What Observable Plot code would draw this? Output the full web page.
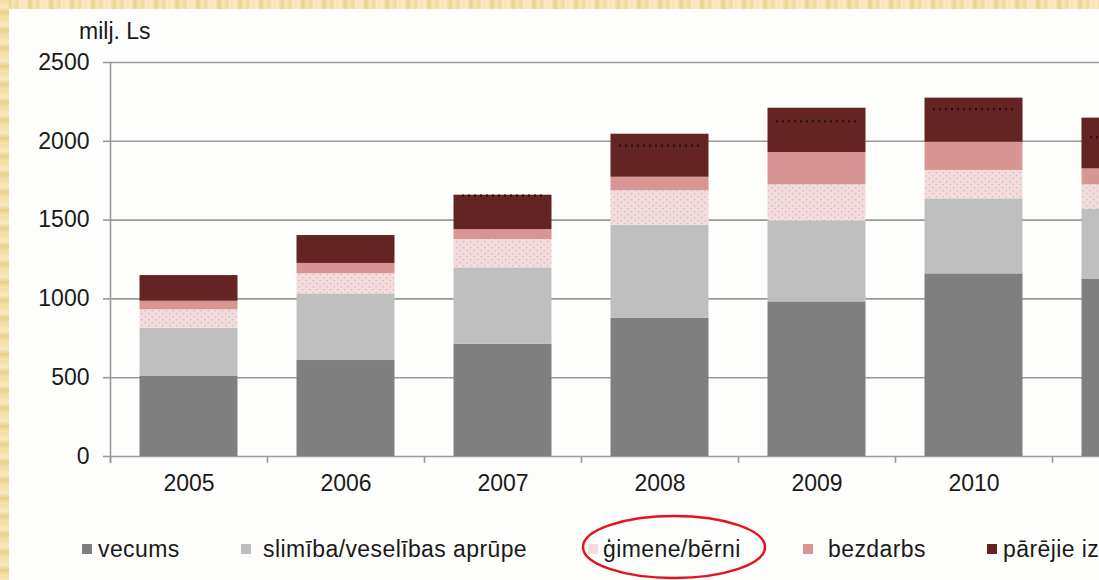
<!DOCTYPE html>
<html>
<head>
<meta charset="utf-8">
<script src="https://cdn.jsdelivr.net/npm/d3@7"></script>
<script src="https://cdn.jsdelivr.net/npm/@observablehq/plot@0.6"></script>
<style>
  html, body { margin: 0; padding: 0; width: 1099px; height: 580px; overflow: hidden; }
  body {
    position: relative;
    background: repeating-linear-gradient(90deg, #f6e4ae 0px, #f9edc6 5px, #ead08a 9px, #f7e8b8 13px, #efda9c 17px, #fbf1cf 21px);
    font-family: "Liberation Sans", Arial, sans-serif;
  }
  #leftstrip { position: absolute; left: 0; top: 0; width: 9px; height: 580px;
    background: repeating-linear-gradient(180deg, #f3dea0 0px, #f8ebc0 7px, #e9cf8c 12px, #f6e4ae 18px); }
  #panel { position: absolute; left: 9px; top: 9px; right: 0; bottom: 0; background: #fdfefc; }
  #chart { position: absolute; left: 0; top: 0; }
  #chart svg { max-width: none; background: transparent; overflow: hidden; }
  .unit { position: absolute; left: 79px; top: 17px; font-size: 23px; color: #1a1a1a; line-height: 28px; }
  .leg { position: absolute; top: 535px; height: 28px; font-size: 23px; line-height: 28px; color: #1a1a1a; letter-spacing: 0.4px; white-space: nowrap; }
  .sw { position: absolute; top: 544px; width: 10px; height: 10px; }
  #ellipse { position: absolute; left: 0; top: 0; pointer-events: none; }
</style>
</head>
<body>
<div id="leftstrip"></div>
<div id="panel"></div>
<div id="chart"></div>
<div class="unit">milj. Ls</div>
<div id="legend"></div>
<svg id="ellipse" width="1099" height="580"><ellipse cx="674" cy="547" rx="91" ry="31" fill="none" stroke="#e3141c" stroke-width="2.5"/></svg>
<script>
const years = ["2005", "2006", "2007", "2008", "2009", "2010", "2011"];
const visibleYearLabels = ["2005", "2006", "2007", "2008", "2009", "2010"];
const seriesNames = ["vecums", "slimība/veselības aprūpe", "ģimene/bērni", "bezdarbs", "pārējie izdevumi"];
const vecums   = [508, 609, 713, 876, 981, 1159, 1123];
const slimiba  = [306, 423, 484, 592, 512, 476, 444];
const gimene   = [117, 127, 180, 218, 231, 180, 157];
const bezdarbs = [54, 66, 63, 86, 205, 179, 101];
const parejie  = [163, 177, 218, 273, 281, 280, 322];
const dottedYears  = ["2007", "2008", "2009", "2010", "2011"];
const dottedValues = [1655, 1973, 2126, 2204, 2026];
const yTicks = [0, 500, 1000, 1500, 2000, 2500];
const seriesColors = ["#7f7f7f", "#bfbfbf", "url(#gdots)", "#d99593", "#632423"];
const legendSwatch = ["#7f7f7f", "#bfbfbf", "#f5dcdc", "#d99593", "#632423"];

const seriesValues = [vecums, slimiba, gimene, bezdarbs, parejie];
const rows = [];
years.forEach((yr, i) => {
  seriesNames.forEach((s, j) => rows.push({year: yr, series: s, value: seriesValues[j][i]}));
});
const dotted = dottedYears.map((yr, i) => ({year: yr, value: dottedValues[i]}));

const band = 157;
const plot = Plot.plot({
  width: 1209,
  height: 500,
  marginLeft: 110,
  marginRight: 0,
  marginTop: 62,
  marginBottom: 44,
  style: {fontFamily: "Liberation Sans, Arial, sans-serif", fontSize: "23px", color: "#1a1a1a", background: "transparent"},
  x: {type: "band", domain: years, range: [110, 110 + band * years.length], padding: 0, label: null},
  y: {domain: [0, 2500], range: [456, 62], label: null},
  color: {domain: seriesNames, range: seriesColors},
  marks: [
    Plot.ruleY(yTicks, {stroke: "#9a9a9a", strokeWidth: 1.6}),
    Plot.barY(rows, {x: "year", y: "value", fill: "series", insetLeft: 29.5, insetRight: 29.5}),
    Plot.tickY(dotted, {x: "year", y: "value", stroke: "#241010", strokeWidth: 2.2, strokeDasharray: "2,4", insetLeft: 38, insetRight: 39}),
    Plot.ruleX(years, {x: d => d, dx: -band / 2, y1: -44, y2: 0, stroke: "#9a9a9a", strokeWidth: 1.6}),
    Plot.ruleX([years[0]], {x: d => d, dx: -band / 2, y1: -44, y2: 2500, stroke: "#9a9a9a", strokeWidth: 1.6}),
    Plot.axisY({ticks: yTicks, tickFormat: d => String(d), tickSize: 7, tickPadding: 14, stroke: "#9a9a9a", strokeWidth: 1.6, fill: "#1a1a1a", fontSize: 23, label: null}),
    Plot.axisX({ticks: visibleYearLabels, tickSize: 0, tickPadding: 18, fill: "#1a1a1a", fontSize: 23, label: null})
  ]
});

const ns = "http://www.w3.org/2000/svg";
const defs = document.createElementNS(ns, "defs");
defs.innerHTML = `<pattern id="gdots" patternUnits="userSpaceOnUse" width="7" height="6">
  <rect width="7" height="6" fill="#f5dcdc"/>
  <rect x="1" y="1" width="1.4" height="1.4" fill="#c4bcc8"/>
  <rect x="4.5" y="4" width="1.4" height="1.4" fill="#c4bcc8"/>
</pattern>`;
plot.insertBefore(defs, plot.firstChild);
document.getElementById("chart").appendChild(plot);

const swX = [82, 241, 588, 803, 987];
const txX = [98, 263, 603, 828, 1003];
const legend = document.getElementById("legend");
seriesNames.forEach((s, i) => {
  const sw = document.createElement("div");
  sw.className = "sw";
  sw.style.left = swX[i] + "px";
  sw.style.background = legendSwatch[i];
  legend.appendChild(sw);
  const t = document.createElement("div");
  t.className = "leg";
  t.style.left = txX[i] + "px";
  t.textContent = s;
  legend.appendChild(t);
});
</script>
</body>
</html>
